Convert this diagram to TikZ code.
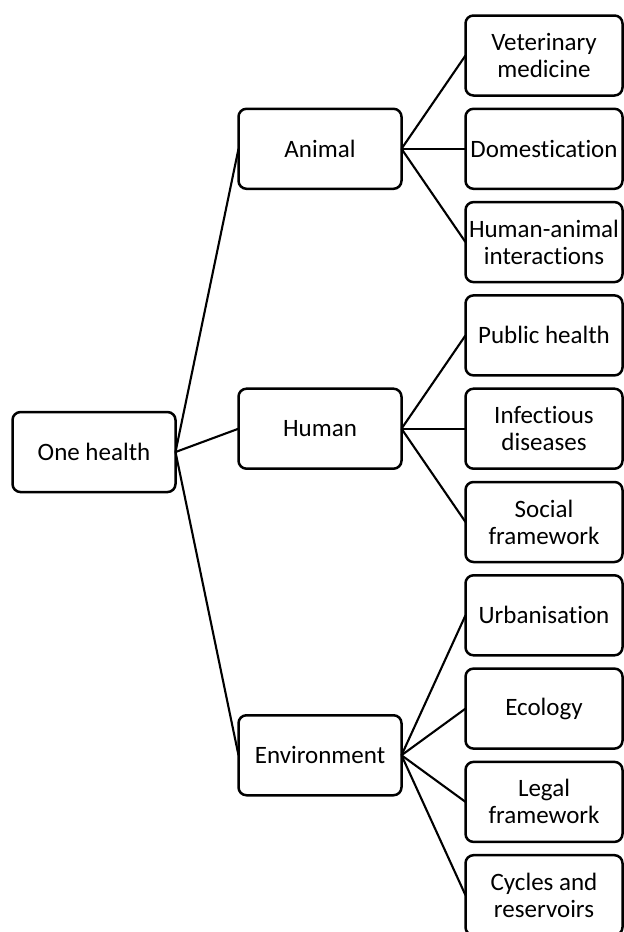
\documentclass[tikz,border=0pt]{standalone}
\usepackage{fontspec}
\setmainfont{Carlito}[Ligatures=NoCommon]
\usetikzlibrary{positioning, calc}

\tikzset{
  box/.style={draw, line width=2.5pt, rounded corners=8pt, minimum height=80pt, align=center, inner sep=0pt, outer sep=0pt, font=\fontsize{25}{27}\selectfont},
  leaf/.style={box, minimum width=157pt},
  mid/.style={box, minimum width=163pt},
  link/.style={line width=2.1pt}
}

\begin{document}
\begin{tikzpicture}[x=1pt, y=-1pt, node distance=13.3pt]
\useasboundingbox (0,0) rectangle (624,932);

% leaves
\node[leaf] (vet) at (544,55.5) {Veterinary\\medicine};
\node[leaf, below=of vet] (dom) {Domestication};
\node[leaf, below=of dom] (inter) {Human-animal\\interactions};
\node[leaf, below=of inter] (pub) {Public health};
\node[leaf, below=of pub] (inf) {Infectious\\diseases};
\node[leaf, below=of inf] (soc) {Social\\framework};
\node[leaf, below=of soc] (urb) {Urbanisation};
\node[leaf, below=of urb] (eco) {Ecology};
\node[leaf, below=of eco] (leg) {Legal\\framework};
\node[leaf, below=of leg] (cyc) {Cycles and\\reservoirs};

% branches
\node[mid, left=64pt of dom] (animal) {Animal};
\node[mid, left=64pt of inf] (human) {Human};
\coordinate (envrow) at ($(eco)!0.5!(leg)$);
\node[mid] (env) at (envrow -| animal) {Environment};

% root
\coordinate (rootrow) at ($(animal.west)!0.5!(env.west)$);
\node[mid, left=63pt of rootrow] (one) {One health};

\foreach \b in {animal, human, env}
  \draw[link] (one.east) -- (\b.west);
\foreach \l in {vet, dom, inter}
  \draw[link] (animal.east) -- (\l.west);
\foreach \l in {pub, inf, soc}
  \draw[link] (human.east) -- (\l.west);
\foreach \l in {urb, eco, leg, cyc}
  \draw[link] (env.east) -- (\l.west);
\end{tikzpicture}
\end{document}
